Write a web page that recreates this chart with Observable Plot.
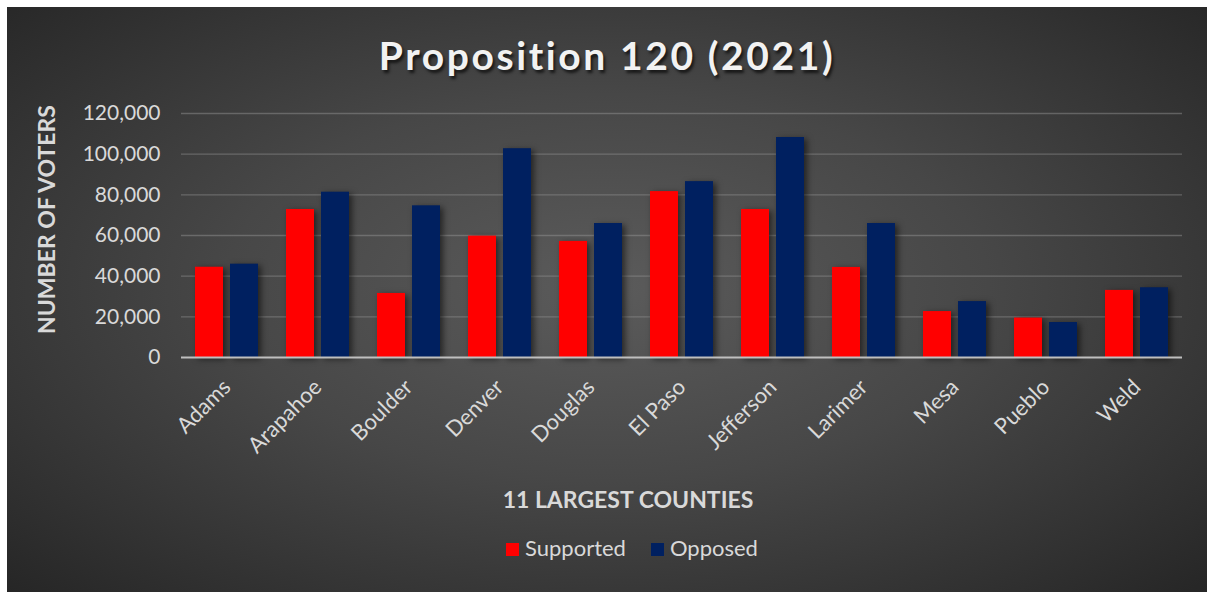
<!DOCTYPE html>
<html>
<head>
<meta charset="utf-8">
<script src="https://cdn.jsdelivr.net/npm/d3@7"></script>
<script src="https://cdn.jsdelivr.net/npm/@observablehq/plot@0.6"></script>
<style>
  html, body { margin: 0; padding: 0; background: #ffffff; width: 1207px; height: 592px; overflow: hidden; }
  #box {
    position: absolute; left: 7px; top: 7px; width: 1200px; height: 585px;
    background: radial-gradient(ellipse farthest-corner at 50% 48%, #5b5b5b 0%, #474747 45%, #262626 100%);
    font-family: Lato, "Open Sans", sans-serif;
  }
  #title {
    position: absolute; left: 0; width: 1200px; top: 25px; text-align: center;
    font-family: Lato, sans-serif; font-weight: bold; font-size: 39px; letter-spacing: 2.6px;
    color: #f2f2f2; text-shadow: 2px 3px 3px rgba(0,0,0,0.65);
  }
  #ytitle {
    position: absolute; left: 39px; top: 201px; width: 300px; margin-left: -150px; text-align: center;
    transform: rotate(-90deg); font-weight: bold; font-size: 23px; color: #d9d9d9; line-height: 1;
  }
  #chart { position: absolute; left: 0; top: 83px; }
  #xtitle {
    position: absolute; left: 0; width: 1200px; top: 478px; padding-left: 42px; box-sizing: border-box; text-align: center;
    font-weight: bold; font-size: 23px; color: #d9d9d9;
  }
  #legend {
    position: absolute; left: 0; width: 1200px; top: 527px; padding-left: 50px; box-sizing: border-box;
    display: flex; justify-content: center; align-items: center; gap: 25px;
    font-size: 22px; color: #d9d9d9;
  }
  .sw { display: inline-block; width: 13px; height: 13px; margin-right: 6px; vertical-align: middle; position: relative; top: -1px; }
</style>
</head>
<body>
<div id="box">
  <div id="title">Proposition 120 (2021)</div>
  <div id="ytitle">NUMBER OF VOTERS</div>
  <div id="chart"></div>
  <div id="xtitle">11 LARGEST COUNTIES</div>
  <div id="legend"></div>
</div>
<script>
const counties = ["Adams","Arapahoe","Boulder","Denver","Douglas","El Paso","Jefferson","Larimer","Mesa","Pueblo","Weld"];
const seriesNames = ["Supported","Opposed"];
const seriesColors = ["#ff0000","#002060"];
const supported = [44400, 72800, 31500, 59700, 57100, 81600, 72800, 44300, 22600, 19400, 33000];
const opposed   = [45900, 81300, 74600, 102700, 65900, 86500, 108200, 65900, 27500, 17200, 34300];
const yTicks = [0, 20000, 40000, 60000, 80000, 100000, 120000];

const data = [];
counties.forEach((c, i) => {
  data.push({county: c, series: seriesNames[0], value: supported[i]});
  data.push({county: c, series: seriesNames[1], value: opposed[i]});
});

const plot = Plot.plot({
  width: 1200,
  height: 390,
  marginLeft: 173,
  marginRight: 24,
  marginTop: 23,
  marginBottom: 123,
  style: {background: "transparent", color: "#d9d9d9", fontFamily: "Lato, sans-serif", fontSize: "21px", overflow: "visible"},
  fx: {domain: counties, padding: 0, label: null, tickRotate: -45, tickSize: 0, tickPadding: 26},
  x: {domain: seriesNames, paddingInner: 0.2, paddingOuter: 0.4, axis: null},
  y: {domain: [0, 120000], ticks: yTicks, tickFormat: d3.format(","), label: null, tickSize: 0, tickPadding: 21},
  color: {domain: seriesNames, range: seriesColors},
  marks: [
    Plot.ruleY(yTicks.filter(d => d > 0), {stroke: "#9a9a9a", strokeOpacity: 0.45, strokeWidth: 1.4}),
    Plot.barY(data, {fx: "county", x: "series", y: "value", fill: "series"}),
    Plot.ruleY([0], {stroke: "#bfbfbf", strokeWidth: 2})
  ]
});
d3.select(plot).selectAll("g[aria-label='bar']").style("filter", "drop-shadow(3px 2px 3px rgba(0,0,0,0.55))");
d3.select(plot).selectAll("g[aria-label='fx-axis tick label'], g[aria-label='fx-axis']").style("font-size", "22px");
document.getElementById("chart").appendChild(plot);

const legend = document.getElementById("legend");
seriesNames.forEach((s, i) => {
  const item = document.createElement("span");
  const sw = document.createElement("span");
  sw.className = "sw";
  sw.style.background = seriesColors[i];
  item.appendChild(sw);
  item.appendChild(document.createTextNode(s));
  legend.appendChild(item);
});
</script>
</body>
</html>
